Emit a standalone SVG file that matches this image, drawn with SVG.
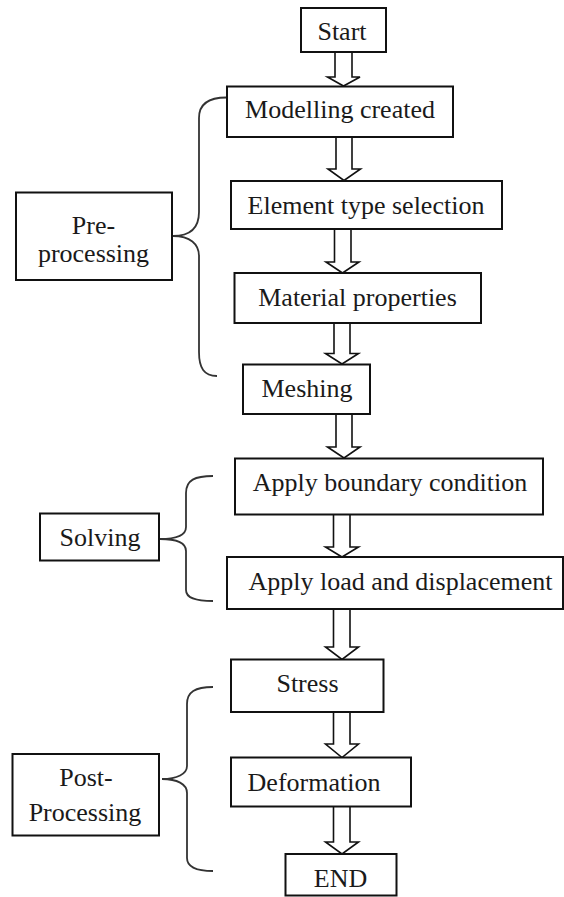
<svg xmlns="http://www.w3.org/2000/svg" width="564" height="897" viewBox="0 0 564 897">
<style>
.box{fill:#fff;stroke:#111;stroke-width:2}
.t{font-size:26px;fill:#1a1a1a;text-anchor:middle}
.arr{fill:#fff;stroke:#111;stroke-width:1.6;stroke-linejoin:miter}
.brace{fill:none;stroke:#333;stroke-width:1.8}
</style>
<rect width="564" height="897" fill="#fff"/>
<g id="connectors">
<path class="arr" d="M335,52 V77 H327.5 L343.5,86 L360,77 H352 V52"/>
<path class="arr" d="M336,137 V169 H328 L344,180.5 L360.5,169 H352 V137"/>
<path class="arr" d="M334.5,229 V262 H326 L342.5,273 L359,262 H351 V229"/>
<path class="arr" d="M334,323 V353.5 H325.5 L342,364 L358.5,353.5 H350 V323"/>
<path class="arr" d="M336,414 V447 H327.5 L344,458 L360,447 H352 V414"/>
<path class="arr" d="M333.5,514 V547 H325.5 L342,557 L358.5,547 H350 V514"/>
<path class="arr" d="M333.5,609 V647 H325.5 L342,659.5 L358.5,647 H350 V609"/>
<path class="arr" d="M333.5,712 V744 H325.5 L342,757.5 L358.5,744 H350 V712"/>
<path class="arr" d="M333.5,807 V842 H325.5 L342,854 L358.5,842 H350 V807"/>
<path class="brace" d="M226.5,97.5 C208,97.5 199,104 199,118 L199,212 C199,228 190,236 173,236 C190,236 199,244 199,256 L199,352 C199,368 204,376 217,376"/>
<path class="brace" d="M213,476 C195,476 186,480 186,493 L186,527 C186,535 176,539 160,539 C176,539 186,543 186,551 L186,590 C186,598 195,601 213,601"/>
<path class="brace" d="M213,687 C195,687 187,692 187,704 L187,766 C187,774 177,779 162,779 C177,779 187,784 187,793 L187,858 C187,866 195,871 213,871"/>
</g>
<g font-family="Liberation Serif, DejaVu Serif, serif">
<g id="start"><rect class="box" x="301" y="8" width="85" height="44"/><text class="t" x="342" y="40">Start</text></g>
<g id="modelling"><rect class="box" x="227" y="86.5" width="226" height="50.5"/><text class="t" x="340" y="118">Modelling created</text></g>
<g id="element"><rect class="box" x="231" y="181" width="271" height="48"/><text class="t" x="366" y="214">Element type selection</text></g>
<g id="material"><rect class="box" x="234.5" y="273" width="246.5" height="50"/><text class="t" x="357.5" y="305.5">Material properties</text></g>
<g id="meshing"><rect class="box" x="243" y="364.5" width="127" height="49.5"/><text class="t" x="307" y="397">Meshing</text></g>
<g id="boundary"><rect class="box" x="235" y="458.5" width="308" height="56"/><text class="t" x="390" y="490.5">Apply boundary condition</text></g>
<g id="load"><rect class="box" x="227" y="557" width="336" height="52"/><text class="t" x="400.5" y="590">Apply load and displacement</text></g>
<g id="stress"><rect class="box" x="231" y="659.5" width="152.5" height="52.5"/><text class="t" x="307.5" y="691.5">Stress</text></g>
<g id="deformation"><rect class="box" x="231" y="757.5" width="180" height="49"/><text class="t" x="314" y="790.5">Deformation</text></g>
<g id="end"><rect class="box" x="285.5" y="854" width="111" height="41.5"/><text class="t" x="340.5" y="886.5">END</text></g>
<g id="preprocessing"><rect class="box" x="16" y="192.5" width="156" height="87.5"/><text class="t" x="93.5" y="234">Pre-</text><text class="t" x="93.5" y="261.5">processing</text></g>
<g id="solving"><rect class="box" x="40" y="513.5" width="119" height="47"/><text class="t" x="100" y="546">Solving</text></g>
<g id="postprocessing"><rect class="box" x="12.5" y="754" width="146.5" height="81.5"/><text class="t" x="86" y="785.5">Post-</text><text class="t" x="85" y="821">Processing</text></g>
</g>
</svg>
